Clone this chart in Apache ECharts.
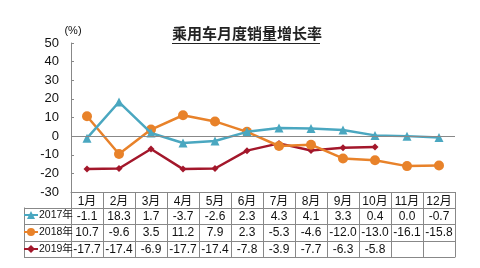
<!DOCTYPE html>
<html><head><meta charset="utf-8">
<script src="https://cdn.jsdelivr.net/npm/echarts@6/dist/echarts.min.js"></script>
<style>html,body{margin:0;padding:0;background:#fff}#c{width:480px;height:268px}</style>
</head><body><div id="c"></div>
<script>
const months = ['1月','2月','3月','4月','5月','6月','7月','8月','9月','10月','11月','12月'];
const seriesNames = ['2017年','2018年','2019年'];
const v2017 = [-1.1, 18.3, 1.7, -3.7, -2.6, 2.3, 4.3, 4.1, 3.3, 0.4, 0.0, -0.7];
const v2018 = [10.7, -9.6, 3.5, 11.2, 7.9, 2.3, -5.3, -4.6, -12.0, -13.0, -16.1, -15.8];
const v2019 = [-17.7, -17.4, -6.9, -17.7, -17.4, -7.8, -3.9, -7.7, -6.3, -5.8];
const yTicks = {min: -30, max: 50, interval: 10};

const GL = 71, GR = 455, GT = 43, GB = 192;
const rowH = 16.5;
const tableLeft = 24;
const colors = ['#4aa7c0', '#e8822a', '#a3172b'];
const rows = [v2017, v2018, v2019];
const fontFam = '"Liberation Sans", "Noto Sans CJK SC", sans-serif';

const chart = echarts.init(document.getElementById('c'));
const xAxes = [{
  type: 'category', data: months, position: 'bottom', boundaryGap: true,
  axisLine: {show: true, onZero: false, lineStyle: {color: '#888', width: 1}},
  axisTick: {show: true, interval: 0, length: 65, lineStyle: {color: '#888'}},
  axisLabel: {interval: 0, margin: 4, fontSize: 12, color: '#111', fontFamily: fontFam}
}];
rows.forEach((vals, r) => {
  xAxes.push({
    type: 'category', data: months, position: 'bottom', offset: Math.round(rowH * (r + 1)) - 1,
    axisLine: {show: true, onZero: false, lineStyle: {color: '#888', width: 1}},
    axisTick: {show: false},
    axisLabel: {interval: 0, margin: 3, fontSize: 12, color: '#111', fontFamily: fontFam,
      formatter: (v, i) => (vals[i] === undefined ? '' : vals[i].toFixed(1))}
  });
});
xAxes.push({
  type: 'category', data: months, position: 'bottom', offset: Math.round(rowH * 4) - 1,
  axisLine: {show: true, onZero: false, lineStyle: {color: '#888', width: 1}},
  axisTick: {show: false}, axisLabel: {show: false}
});

const symbols = ['triangle', 'circle', 'diamond'];
const sizes = [9, 10, 7];
const series = rows.map((vals, r) => ({
  name: seriesNames[r], type: 'line', data: vals, xAxisIndex: 0,
  symbol: symbols[r], symbolSize: sizes[r], showAllSymbol: true,
  lineStyle: {width: 2.5, color: colors[r]}, itemStyle: {color: colors[r]},
  z: 3 - r
}));
series[0].markLine = {silent: true, symbol: 'none', label: {show: false},
  lineStyle: {color: '#888', type: 'solid', width: 1}, data: [{yAxis: 0}]};

const graphics = [
  {type: 'line', shape: {x1: 172, y1: 43.5, x2: 320, y2: 43.5}, style: {stroke: '#222', lineWidth: 1}},
  {type: 'line', shape: {x1: tableLeft + 0.5, y1: GB + rowH - 1, x2: tableLeft + 0.5, y2: GB + 4 * rowH - 1}, style: {stroke: '#888', lineWidth: 1}}
];
for (let k = 1; k <= 4; k++) {
  const y = GB + Math.round(rowH * k) - 1 + 0.5;
  graphics.push({type: 'line', shape: {x1: tableLeft, y1: y, x2: GL, y2: y}, style: {stroke: '#888', lineWidth: 1}});
}

chart.setOption({
  animation: false,
  backgroundColor: '#fff',
  title: {text: '乘用车月度销量增长率', left: 172, top: 27, padding: 0,
    textStyle: {fontSize: 15, fontWeight: 'bold', color: '#222', fontFamily: fontFam}},
  grid: {left: GL, right: 480 - GR, top: GT, bottom: 268 - GB, containLabel: false},
  legend: {orient: 'vertical', left: 23, top: 209, padding: 0, itemGap: 5,
    itemWidth: 14, itemHeight: 10, data: seriesNames,
    textStyle: {fontSize: 10.5, lineHeight: 12, color: '#111', fontFamily: fontFam, padding: [0, 0, 0, -4]}},
  xAxis: xAxes,
  yAxis: {type: 'value', min: yTicks.min, max: yTicks.max, interval: yTicks.interval,
    name: '(%)', nameLocation: 'end', nameGap: 0,
    nameTextStyle: {fontSize: 11, color: '#111', fontFamily: fontFam, align: 'center', padding: [0, 0, 0, 4]},
    axisLine: {show: true, lineStyle: {color: '#888'}},
    axisTick: {show: true, inside: true, length: 3, lineStyle: {color: '#888'}},
    splitLine: {show: false},
    axisLabel: {fontSize: 13, color: '#111', margin: 12, fontFamily: fontFam}},
  graphic: graphics,
  series: series
});
</script></body></html>
